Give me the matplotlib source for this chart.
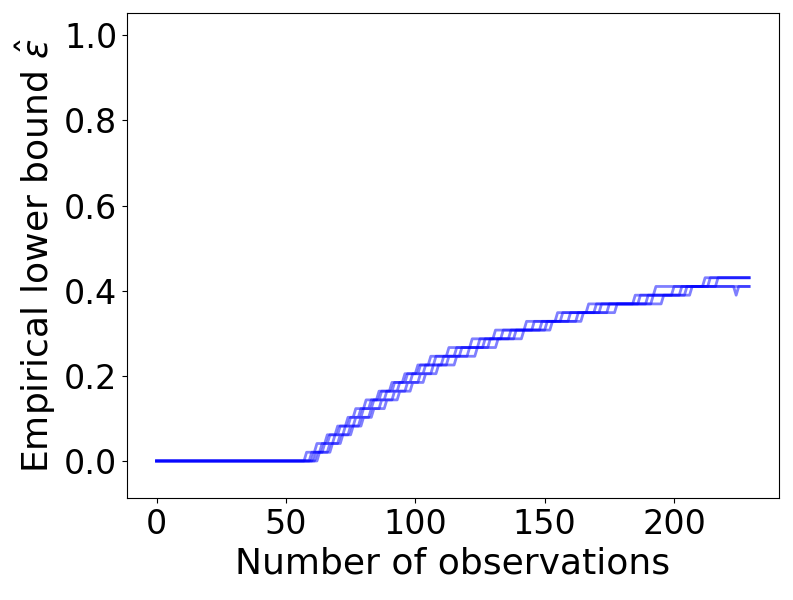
import numpy as np
import matplotlib.pyplot as plt

n_obs = 230  # observations 0..229

# levels of the empirical lower bound (one step each)
levels = [0.0, 0.0205, 0.041, 0.0615, 0.082, 0.1025, 0.123, 0.1435, 0.164,
          0.1845, 0.205, 0.2255, 0.246, 0.2665, 0.287, 0.3075, 0.328, 0.3485,
          0.369, 0.3895, 0.41, 0.4305]

# observation index at which each run moves up one level
steps_a = [58, 62, 66, 70, 74, 77, 81, 86, 91, 96, 102, 108, 116, 125, 134, 146, 160, 175, 196, 205]
steps_b = [61, 65, 69, 73, 77, 80, 84, 89, 94, 99, 104, 111, 118, 127, 137, 149, 163, 172, 190, 200, 214]
steps_c = [62, 67, 71, 75, 79, 83, 87, 92, 97, 102, 107, 113, 121, 129, 139, 151, 157, 170, 187, 203, 212]
steps_d = [60, 64, 67, 71, 75, 79, 83, 87, 92, 97, 101, 106, 113, 122, 131, 143, 155, 167, 185, 193]
steps_e = [63, 68, 72, 76, 80, 84, 89, 94, 99, 104, 109, 116, 124, 132, 142, 153, 165, 178, 192, 207, 217]
runs = [steps_a, steps_b, steps_c, steps_d, steps_e]

# single-point drop seen in run a
dip_run, dip_x, dip_level = 0, 224, 0.3895

x = np.arange(n_obs)

fig = plt.figure(figsize=(7.93, 6), dpi=100)
ax = fig.add_axes([0.160, 0.170, 0.822, 0.808])

for i, st in enumerate(runs):
    idx = np.searchsorted(st, x, side='right')
    y = np.array(levels)[idx]
    if i == dip_run:
        y[dip_x] = dip_level
    ax.plot(x, y, color='blue', alpha=0.5, lw=2)

ax.set_ylim(-0.087, 1.052)
ax.set_yticks([0.0, 0.2, 0.4, 0.6, 0.8, 1.0])
ax.set_xticks([0, 50, 100, 150, 200])
ax.tick_params(labelsize=24)
ax.set_xlabel('Number of observations', fontsize=26)
ax.set_ylabel(r'Empirical lower bound $\hat{\varepsilon}$', fontsize=26)

fig.savefig('out.png', dpi=100)
